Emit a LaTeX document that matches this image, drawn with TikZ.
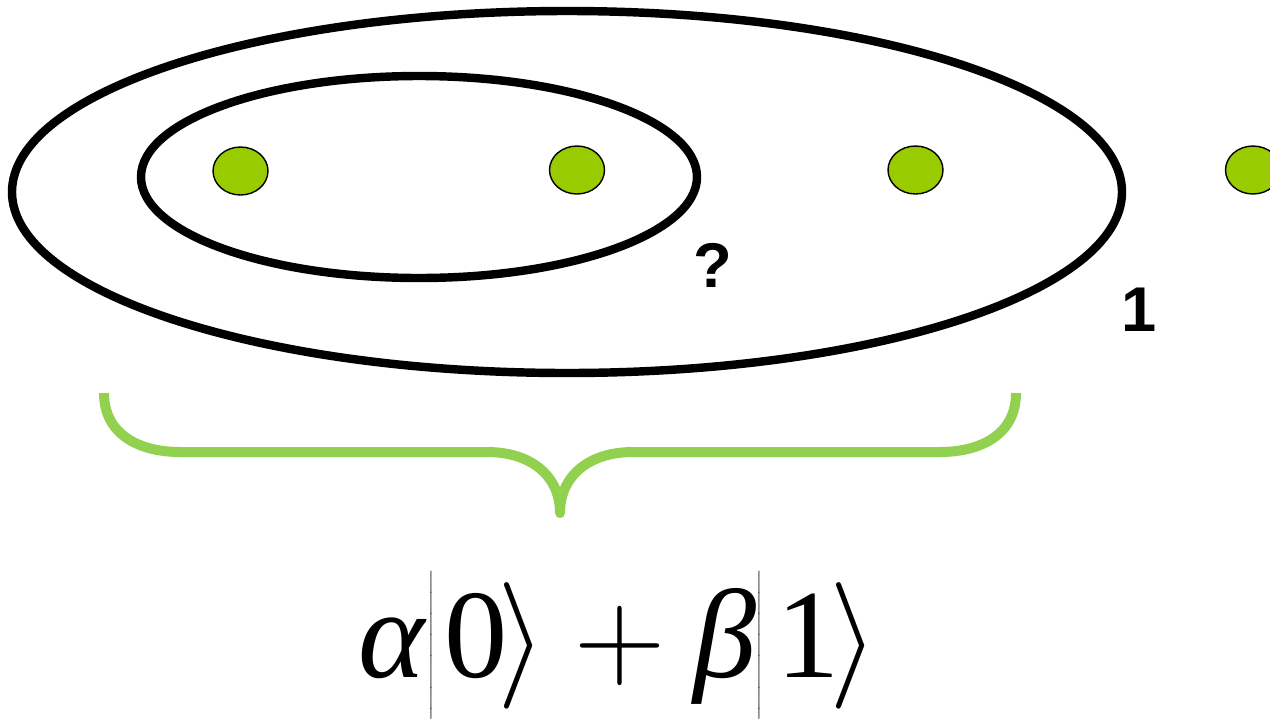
\RequirePackage{fix-cm}
\documentclass[tikz,border=0pt]{standalone}
\usepackage{fontspec}
\setmainfont{Liberation Serif}
\newfontfamily\labelfont{Liberation Sans}
\usetikzlibrary{shapes.geometric}
\definecolor{dotgreen}{HTML}{99CC00}
\definecolor{bracegreen}{HTML}{92D050}

\begin{document}
\begin{tikzpicture}[x=0.02cm,y=-0.02cm,
  orbit/.style={draw=black,line width=4.8pt},
  qdot/.style={ellipse,draw=black,line width=0.8pt,fill=dotgreen,
    minimum width=1.1cm,minimum height=0.96cm,inner sep=0pt},
  lab/.style={font=\labelfont\bfseries\fontsize{36}{40}\selectfont,
    inner sep=0pt},
  brace/.style={draw=bracegreen,line width=5.7pt,line join=round},
  ket/.style={font=\fontsize{72}{80}\selectfont,inner sep=0pt}
]
\useasboundingbox (0,0) rectangle (1270,724);
% the two orbits
\draw[orbit] (567,192) ellipse [x radius=555,y radius=181];
\draw[orbit] (419,177) ellipse [x radius=278,y radius=101];
% the dots
\node[qdot] (d1) at (240.5,171) {};
\node[qdot] (d2) at (577,170) {};
\node[qdot] (d3) at (915.5,170) {};
\node[qdot] (d4) at (1253,170) {};
\node[lab] (ask) at (713,265) {?};
\node[lab] (one) at (1139,310) {1};
% brace under the outer orbit
\draw[brace] (104,393) .. controls (104,435) and (140,452) .. (180,452)
  -- (487,452) .. controls (530,452) and (560,475) .. (560,513)
  .. controls (560,475) and (590,452) .. (633,452)
  -- (940,452) .. controls (980,452) and (1016,435) .. (1016,393);
\node[ket,anchor=base west] (state) at (358,677)
  {$\mbox{\itshape α}\mkern-2.5mu\left|\rule{0pt}{.85em}\mkern1.5mu\mbox{0}\mkern-1.5mu\right\rangle
   +\mbox{\itshape β}\mkern-3mu\left|\rule{0pt}{.85em}\mkern2mu\mbox{1}\mkern-1.5mu\right\rangle$};
\end{tikzpicture}
\end{document}
